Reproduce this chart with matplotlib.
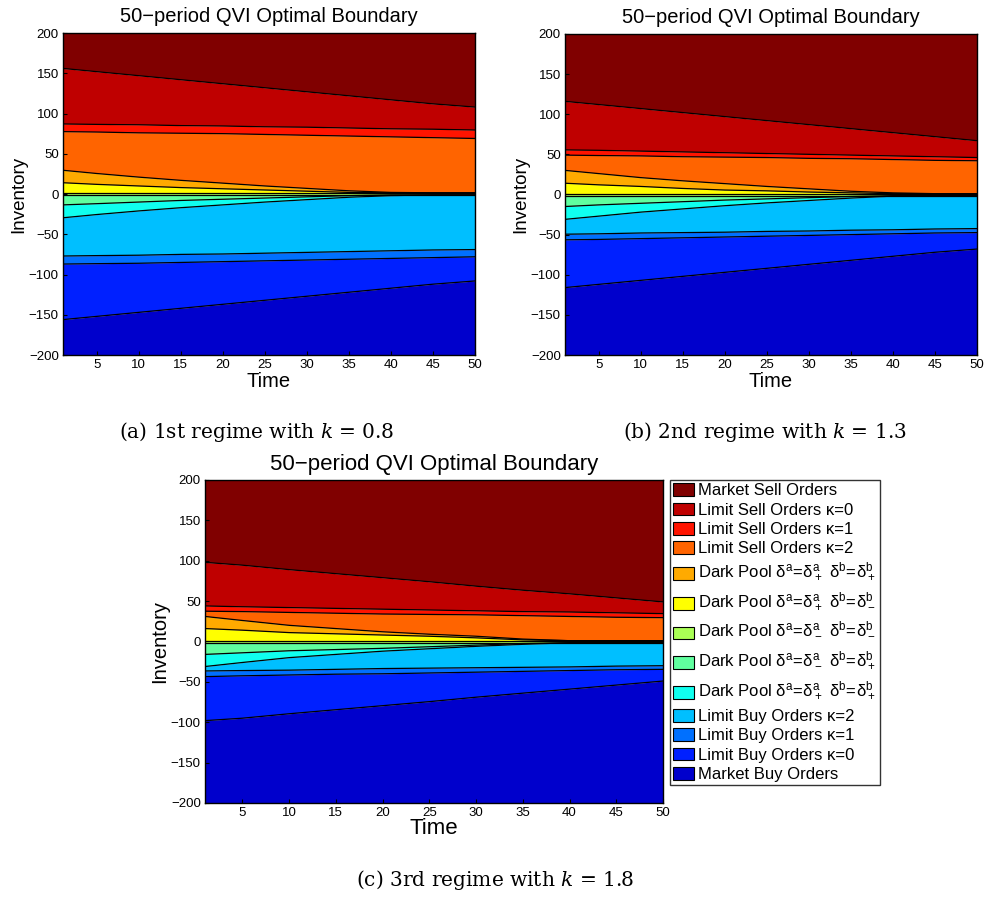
import matplotlib
matplotlib.use('Agg')
import matplotlib.pyplot as plt
from matplotlib.patches import Patch

plt.rcParams['font.family'] = ['Liberation Sans', 'DejaVu Sans']
plt.rcParams['mathtext.fontset'] = 'custom'
plt.rcParams['mathtext.rm'] = 'Liberation Sans'
plt.rcParams['mathtext.it'] = 'DejaVu Serif:italic'

# time grid the boundaries were read at
t = [1, 5, 10, 15, 20, 25, 30, 35, 40, 45, 50]

# region names (top to bottom) and colours
labels = [
    'Market Sell Orders',
    'Limit Sell Orders κ=0',
    'Limit Sell Orders κ=1',
    'Limit Sell Orders κ=2',
    r'Dark Pool $\mathrm{\delta^a\!=\!\delta^a_+\ \delta^b\!=\!\delta^b_+}$',
    r'Dark Pool $\mathrm{\delta^a\!=\!\delta^a_+\ \delta^b\!=\!\delta^b_-}$',
    r'Dark Pool $\mathrm{\delta^a\!=\!\delta^a_-\ \delta^b\!=\!\delta^b_-}$',
    r'Dark Pool $\mathrm{\delta^a\!=\!\delta^a_-\ \delta^b\!=\!\delta^b_+}$',
    r'Dark Pool $\mathrm{\delta^a\!=\!\delta^a_+\ \delta^b\!=\!\delta^b_+}$',
    'Limit Buy Orders κ=2',
    'Limit Buy Orders κ=1',
    'Limit Buy Orders κ=0',
    'Market Buy Orders',
]
colors = ['#800000', '#bf0000', '#ff1400', '#ff6400', '#ffaa00', '#ffff00',
          '#aaff55', '#60ff9f', '#10ffef', '#00bfff', '#0070ff', '#0020ff',
          '#0000cc']

# boundaries between regions, top to bottom, for each regime
bounds_a = [
    [156, 152, 147, 142, 137, 132, 127, 122, 117, 112, 108],
    [87, 86.5, 86, 85, 84.5, 83.5, 83, 82, 81, 80.5, 79.5],
    [77.5, 77, 76, 75.5, 75, 74, 73, 72, 71, 70, 69],
    [29.5, 25.5, 21, 17, 13.5, 10, 7, 4, 2, 1.5, 1.5],
    [14, 12, 10, 8, 6.5, 5, 3.5, 2, 1.5, 1.5, 1.5],
    [1.5, 1.5, 1.5, 1.5, 1.5, 1.5, 1.5, 1.5, 1.5, 1.5, 1.5],
    [-1, -1, -1, -1, -1, -1, -1, -1, -1, -1, -1],
    [-13.5, -12, -10, -8, -6.5, -5, -3.5, -2, -1, -1, -1],
    [-29.5, -25.5, -21, -17, -13.5, -10, -7, -4, -2, -1, -1],
    [-77, -76.5, -76, -75, -74.5, -73.5, -72.5, -71.5, -70.5, -69.5, -69],
    [-87, -86.5, -86, -85, -84, -83, -82, -81, -80, -79, -78],
    [-156, -152, -147, -142, -137, -132, -127, -122, -117, -112, -108],
]
bounds_b = [
    [116, 112, 107, 102, 97, 92, 87, 82, 77, 72, 67],
    [55.5, 55, 54, 53, 52, 51, 50, 49, 48, 47, 46],
    [49, 48.5, 48, 47, 46.5, 46, 45, 44.5, 43.5, 42.5, 42],
    [30, 26, 21, 17, 13.5, 10, 7, 4, 2, 1, 1],
    [14, 12, 10, 7.5, 5.5, 4.5, 3, 2, 1, 1, 1],
    [1, 1, 1, 1, 1, 1, 1, 1, 1, 1, 1],
    [-1.5, -1.5, -1.5, -1.5, -1.5, -1.5, -1.5, -1.5, -1.5, -1.5, -1.5],
    [-15, -13, -11, -9, -7, -5.5, -4, -2.5, -1.5, -1.5, -1.5],
    [-31, -27, -22, -18, -14, -10.5, -7.5, -4.5, -2, -1.5, -1.5],
    [-49.5, -49, -48, -47.5, -47, -46, -45.5, -44.5, -44, -43, -42.5],
    [-56.5, -56, -55, -54, -53, -52, -51, -50, -49, -48, -47.5],
    [-116, -112, -107, -102, -97, -92, -87, -82, -77, -72, -68],
]
bounds_c = [
    [98, 94.5, 89, 84, 79, 74, 68.5, 63.5, 59, 54, 49],
    [44, 43, 42, 41, 40, 39, 38, 37, 36.5, 35.5, 34.5],
    [37.5, 37, 36, 35, 34, 33.5, 33, 32, 31, 30, 29.5],
    [31, 26, 20, 16, 12, 9, 6.5, 3, 1, 1, 1],
    [16, 14, 11, 9.5, 8, 6.5, 4.5, 2, 1, 1, 1],
    [1, 1, 1, 1, 1, 1, 1, 1, 1, 1, 1],
    [-1.5, -1.5, -1.5, -1.5, -1.5, -1.5, -1.5, -1.5, -1.5, -1.5, -1.5],
    [-16, -14, -11.5, -10, -8.5, -6.5, -4.5, -2.5, -1.5, -1.5, -1.5],
    [-31, -26, -20, -16, -12, -9, -6, -3.5, -1.5, -1.5, -1.5],
    [-36.5, -36, -35.5, -34.5, -33.5, -33, -32.5, -32, -31.5, -30.5, -30],
    [-43.5, -42.5, -41.5, -40.5, -40, -39, -38, -37, -36, -35, -34.5],
    [-98, -95, -89.5, -84.5, -79.5, -74.5, -69, -64, -59, -54, -49],
]

captions = ['(a) 1st regime with $k$ = 0.8',
            '(b) 2nd regime with $k$ = 1.3',
            '(c) 3rd regime with $k$ = 1.8']


def draw_panel(ax, bounds, big=False):
    top = [200] * len(t)
    bottom = [-200] * len(t)
    edges = [top] + bounds + [bottom]
    for i in range(len(colors)):
        ax.fill_between(t, edges[i], edges[i + 1], color=colors[i], lw=0)
    for b in bounds:
        ax.plot(t, b, color='k', lw=0.9)
    ax.set_xlim(1, 50)
    ax.set_ylim(-200, 200)
    ax.set_xticks(range(5, 51, 5))
    ax.set_yticks(range(-200, 201, 50))
    ax.tick_params(direction='in', labelsize=9.5, length=3, pad=3)
    if big:
        ax.set_title('50\u2212period QVI Optimal Boundary', fontsize=16, pad=7)
        ax.set_xlabel('Time', fontsize=16, labelpad=-1)
        ax.set_ylabel('Inventory', fontsize=14.5, labelpad=1)
    else:
        ax.set_title('50\u2212period QVI Optimal Boundary', fontsize=14.5, pad=8)
        ax.set_xlabel('Time', fontsize=14.5, labelpad=0.5)
        ax.set_ylabel('Inventory', fontsize=13.5, labelpad=1)
    for s in ax.spines.values():
        s.set_linewidth(1.0)


fig = plt.figure(figsize=(9.89, 8.97), dpi=100)
ax_a = fig.add_axes([0.0637, 0.6042, 0.4166, 0.359])
ax_b = fig.add_axes([0.5713, 0.6042, 0.4166, 0.358])
ax_c = fig.add_axes([0.2073, 0.1048, 0.4631, 0.3601])

draw_panel(ax_a, bounds_a)
draw_panel(ax_b, bounds_b)
draw_panel(ax_c, bounds_c, big=True)

# dark pool rows are taller in the original legend: add an empty second line
leg_labels = [s + '\n' if s.startswith('Dark') else s for s in labels]
handles = [Patch(facecolor=c, edgecolor='k', lw=0.8) for c in colors]
leg = fig.legend(handles, leg_labels, loc='upper left',
                 bbox_to_anchor=(0.6775, 0.4649), fontsize=12,
                 frameon=True, fancybox=False, borderpad=0.2,
                 labelspacing=0.25, handlelength=1.25, handleheight=0.8,
                 handletextpad=0.25, borderaxespad=0)

# even out the dark pool row heights (sub/superscripts differ in depth)
renderer = fig.canvas.get_renderer()
row_h = 25.5
for txt in leg.get_texts():
    s = txt.get_text()
    if s.startswith('Dark'):
        fp = txt.get_fontproperties()
        _, lp_h, lp_d = renderer.get_text_width_height_descent('lp', fp, ismath=False)
        _, h1, _ = renderer.get_text_width_height_descent(s.rstrip('\n'), fp, ismath=True)
        ls = max(0.0, (row_h - h1 - lp_d) / (lp_h - lp_d))
        txt.set_linespacing(ls)
leg.get_frame().set_edgecolor('k')
leg.get_frame().set_linewidth(1.0)

cap_kw = dict(fontsize=14.5, family='DejaVu Serif', ha='center', va='center')
fig.text(256 / 989, 1 - 432 / 897, captions[0], **cap_kw)
fig.text(765 / 989, 1 - 432 / 897, captions[1], **cap_kw)
fig.text(495 / 989, 1 - 880 / 897, captions[2], **cap_kw)

fig.savefig('out.png', dpi=100)
